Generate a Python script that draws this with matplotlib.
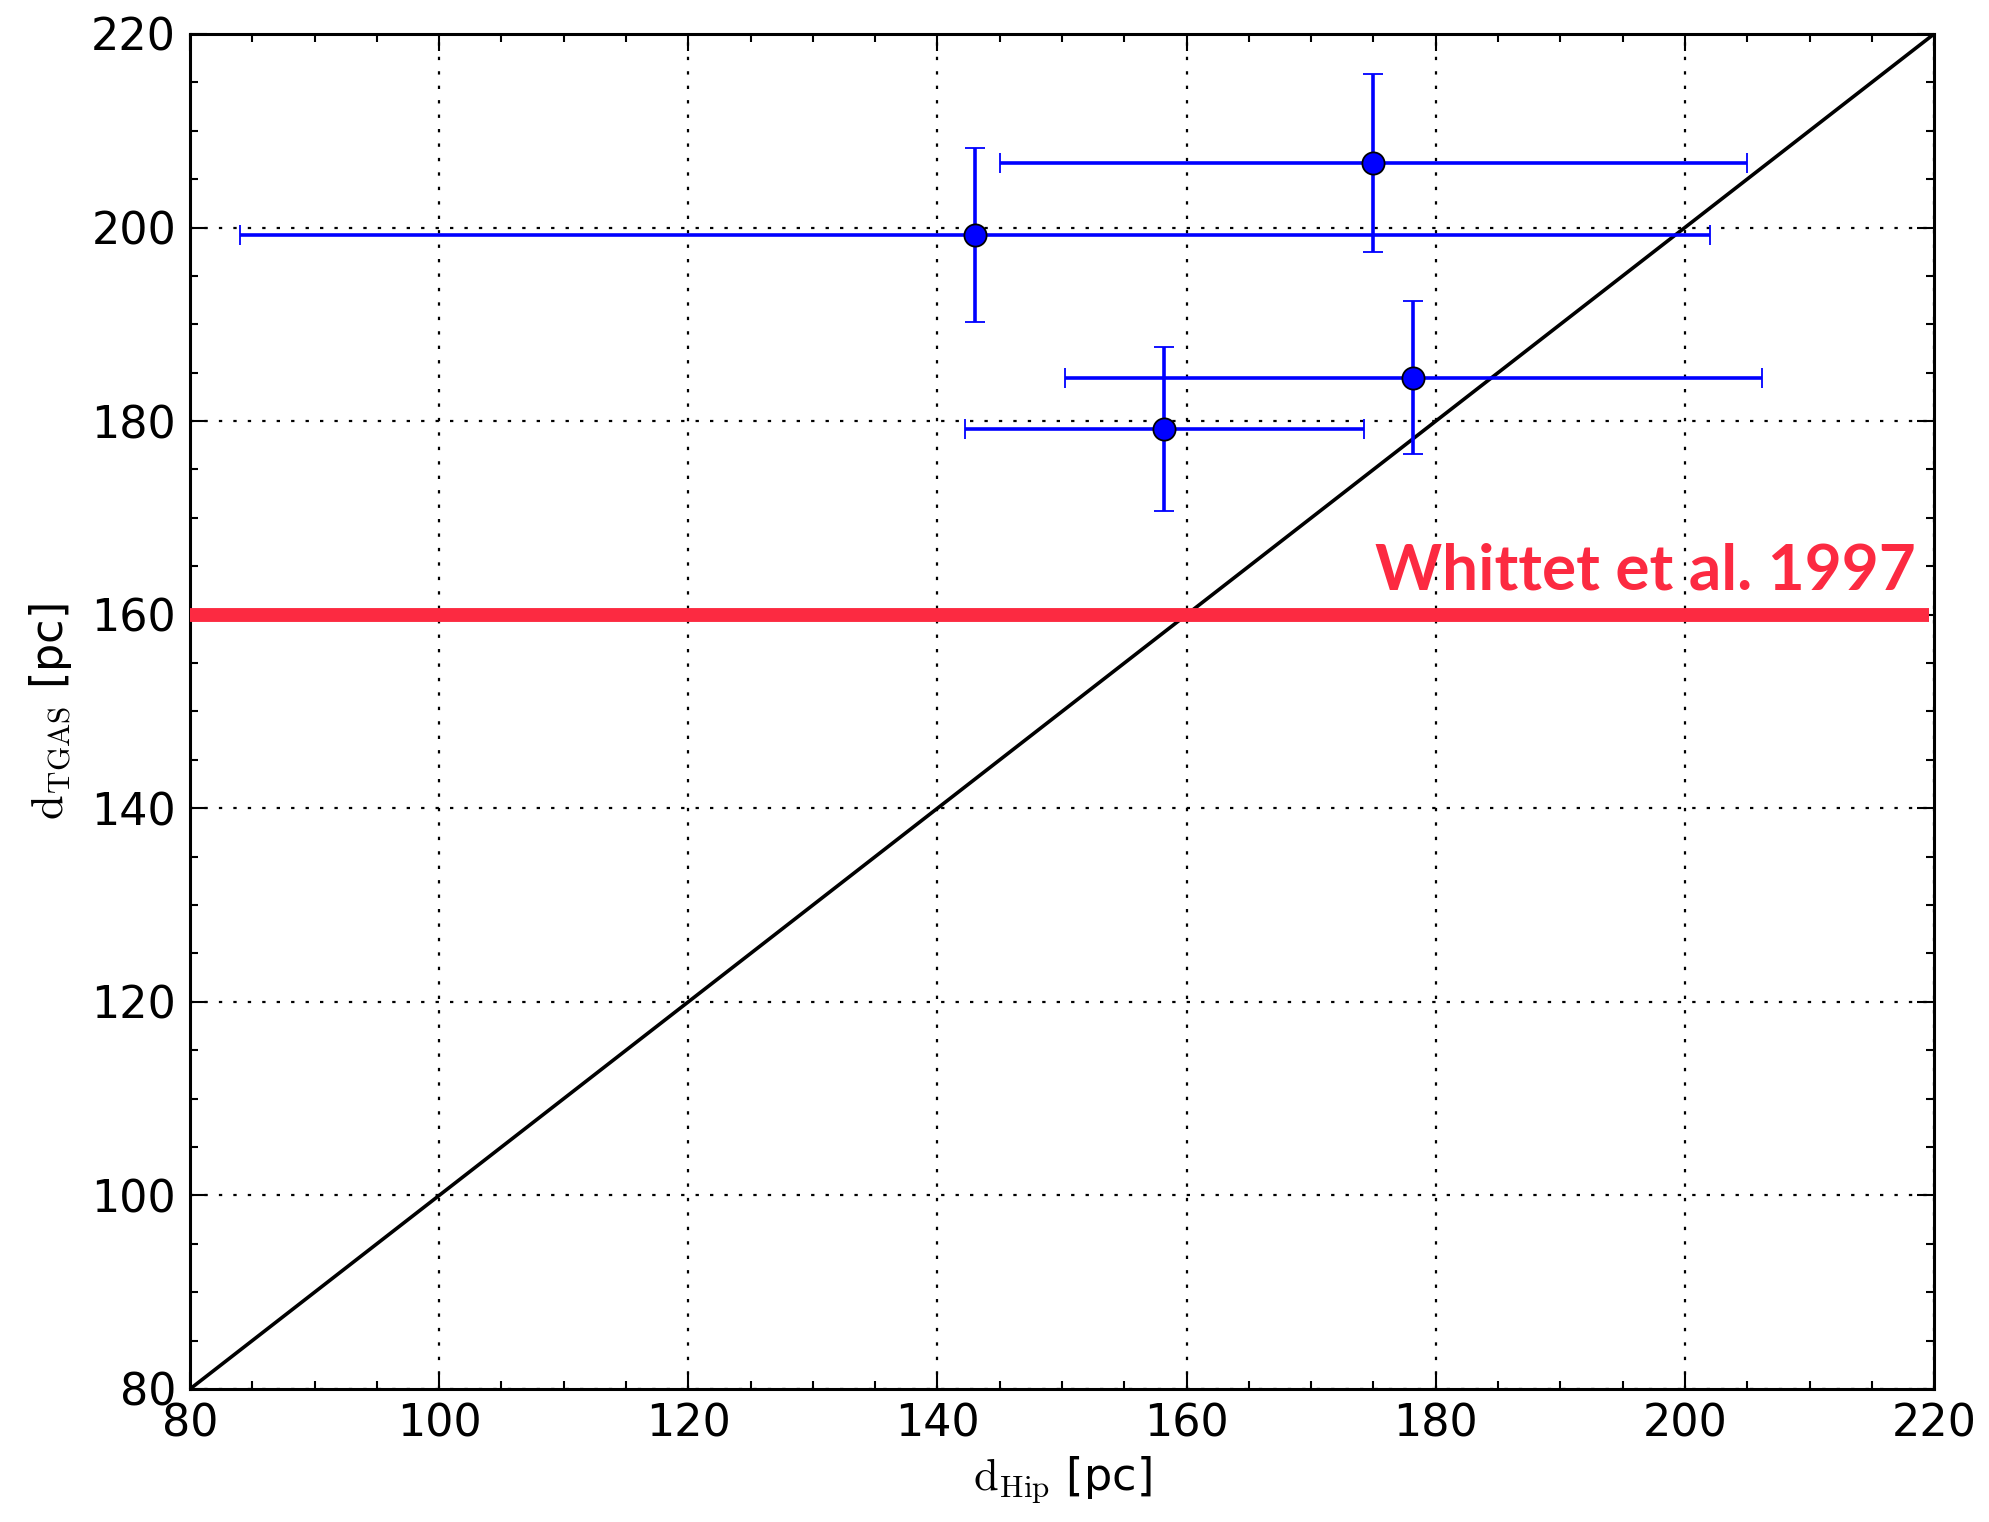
import matplotlib
matplotlib.use("Agg")
import matplotlib.pyplot as plt
from matplotlib.ticker import MultipleLocator

plt.rcParams['mathtext.fontset'] = 'cm'
plt.rcParams['font.family'] = ['DejaVu Sans']

# Hipparcos vs TGAS distances (pc) with symmetric uncertainties
d_hip = [143.0, 175.0, 178.2, 158.2]
d_hip_err = [59.0, 30.0, 28.0, 16.0]
d_tgas = [199.2, 206.7, 184.5, 179.2]
d_tgas_err = [9.0, 9.2, 7.9, 8.5]

ref_distance = 160.0
ref_label = "Whittet et al. 1997"

axis_min, axis_max = 80, 220
major_ticks = [80, 100, 120, 140, 160, 180, 200, 220]

fig = plt.figure(figsize=(19.90, 15.22), dpi=100)
ax = fig.add_axes([0.0955, 0.0874, 0.8764, 0.8903])

ax.plot([axis_min, axis_max], [axis_min, axis_max], color='black', lw=2.6, zorder=2)

ax.errorbar(d_hip, d_tgas, xerr=d_hip_err, yerr=d_tgas_err, fmt='o',
            color='blue', ecolor='blue', elinewidth=2.6, capsize=7,
            capthick=1.4, markersize=16, markeredgecolor='black',
            markeredgewidth=1.3, zorder=3)

ax.hlines(ref_distance, axis_min, 219.6, color='#fc2a41', lw=10, zorder=4)
ax.text(218.5, ref_distance + 2.6, ref_label, color='#fc2a41', fontsize=46,
        fontweight='bold', family=['Lato', 'DejaVu Sans'],
        ha='right', va='baseline', zorder=5)

ax.set_xlim(axis_min, axis_max)
ax.set_ylim(axis_min, axis_max)
ax.set_xticks(major_ticks)
ax.set_yticks(major_ticks)
ax.xaxis.set_minor_locator(MultipleLocator(5))
ax.yaxis.set_minor_locator(MultipleLocator(5))
ax.tick_params(which='both', direction='in', top=True, right=True,
               labelsize=32, pad=10)
ax.tick_params(which='major', length=12, width=1.5)
ax.tick_params(which='minor', length=6, width=1.5)

ax.grid(True, which='major', color='black', linestyle=(0, (1.5, 5)), lw=1.6)

for spine in ax.spines.values():
    spine.set_linewidth(2.2)

ax.set_xlabel(r'$\mathrm{d_{Hip}}$ [pc]', fontsize=32, labelpad=6)
ax.set_ylabel(r'$\mathrm{d_{TGAS}}$ [pc]', fontsize=32, labelpad=12)

fig.savefig('out.png', dpi=100)
